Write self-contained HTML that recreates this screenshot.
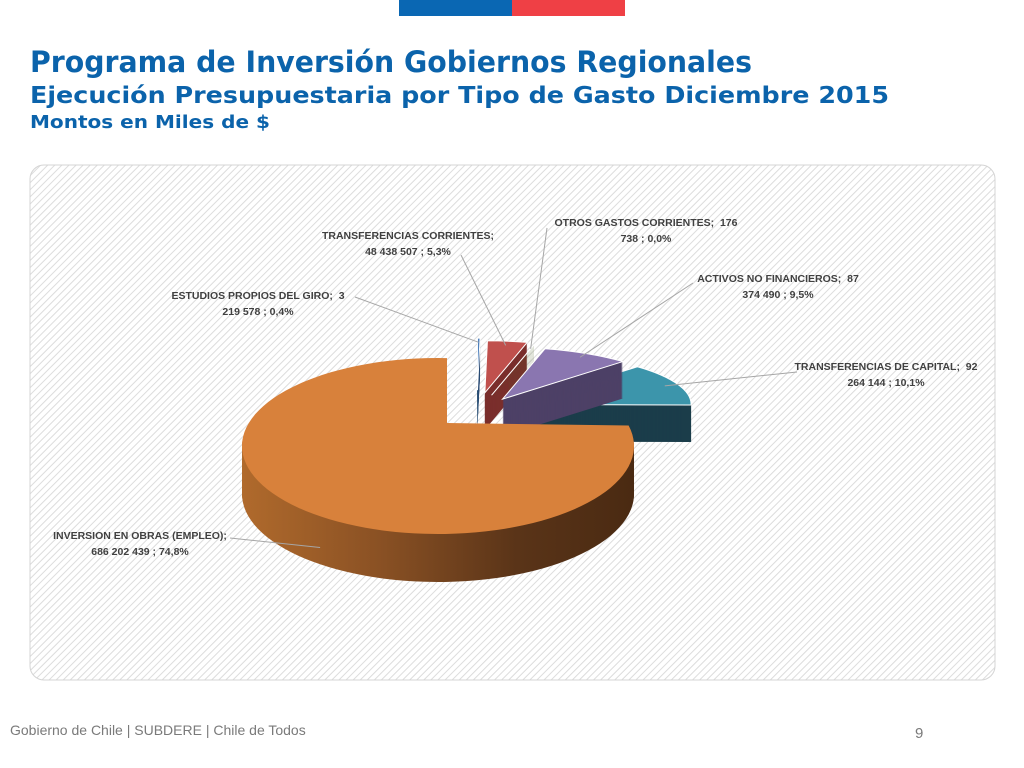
<!DOCTYPE html>
<html><head><meta charset="utf-8"><style>
html,body{margin:0;padding:0;background:#fff;width:1024px;height:768px;overflow:hidden}
svg{display:block}
</style></head><body>
<svg id="root" width="1024" height="768" xmlns="http://www.w3.org/2000/svg">
<defs>
<pattern id="hatch" patternUnits="userSpaceOnUse" width="5" height="5" patternTransform="rotate(45)">
<rect width="5" height="5" fill="#fff"/><line x1="0" y1="0" x2="0" y2="5" stroke="#dcdcdc" stroke-width="2"/>
</pattern>
<linearGradient id="orSide" gradientUnits="userSpaceOnUse" x1="242" y1="0" x2="634" y2="0">
<stop offset="0" stop-color="#b06a2c"/><stop offset="0.35" stop-color="#8a5124"/><stop offset="0.7" stop-color="#5a3418"/><stop offset="1" stop-color="#4a2a12"/>
</linearGradient>
</defs>
<rect x="399" y="0" width="113" height="16" fill="#0a67b3"/>
<rect x="512" y="0" width="113" height="16" fill="#ef4045"/>
<g font-family="'DejaVu Sans', Verdana, sans-serif" font-weight="bold" fill="#0b63ab">
<text x="30" y="72" font-size="29" textLength="722" lengthAdjust="spacingAndGlyphs">Programa de Inversión Gobiernos Regionales</text>
<text x="30" y="103" font-size="23" textLength="859" lengthAdjust="spacingAndGlyphs">Ejecución Presupuestaria por Tipo de Gasto Diciembre 2015</text>
<text x="30" y="128" font-size="18" textLength="240" lengthAdjust="spacingAndGlyphs">Montos en Miles de $</text>
</g>
<rect x="30" y="165" width="965" height="515" rx="14" fill="url(#hatch)" stroke="#d4d4d4"/>
<g id="pie"></g>
<g id="labels" font-family="'Liberation Sans', Calibri, sans-serif" font-size="10.5" font-weight="bold" fill="#404040"></g>
<text x="10" y="735" font-family="'Liberation Sans', sans-serif" font-size="14" fill="#7a7a7a">Gobierno de Chile | SUBDERE | Chile de Todos</text>
<text x="915" y="738" font-family="'Liberation Sans', sans-serif" font-size="15" fill="#7a7a7a">9</text>
</svg>
<script>
const categories = ["ESTUDIOS PROPIOS DEL GIRO","TRANSFERENCIAS CORRIENTES","OTROS GASTOS CORRIENTES","ACTIVOS NO FINANCIEROS","TRANSFERENCIAS DE CAPITAL","INVERSION EN OBRAS (EMPLEO)"];
const values = [3219578, 48438507, 176738, 87374490, 92264144, 686202439];
const valueLabels = ["3 219 578","48 438 507","176 738","87 374 490","92 264 144","686 202 439"];
const pctLabels = ["0,4%","5,3%","0,0%","9,5%","10,1%","74,8%"];
const exploded = [1,1,1,1,1,0];
const colors = ["#4f81bd","#c0504d","#8fac4f","#8a76b0","#3c95ab","#d8813b"];
const sideColors = ["#2c4d75","#7a2e2c","#55692b","#4d4066","#1b3d4a","url(#orSide)"];

const NS="http://www.w3.org/2000/svg";
const cx=440, cy=440;
const big={ecx:438, ecy:446, rx:196, ry:88, apx:447, apy:423, depth:48};
const small={rx:174, ry:52, depth:37, k:0.68};
const pie=document.getElementById('pie');
const total=values.reduce((a,b)=>a+b,0);
// perspective remap of angle for the rear (exploded) slices
function proj(a){
  if(a>=Math.PI/2-1e-9) return a;
  return Math.atan(Math.tan(a)*small.k);
}
function slicePathSmall(a0,a1,ox,oy,dz){
  const b0=proj(a0), b1=proj(a1);
  const p0=[ox+small.rx*Math.sin(b0), oy-small.ry*Math.cos(b0)+dz];
  const p1=[ox+small.rx*Math.sin(b1), oy-small.ry*Math.cos(b1)+dz];
  const large=(b1-b0)>Math.PI?1:0;
  return `M${ox},${oy+dz} L${p0[0]},${p0[1]} A${small.rx},${small.ry} 0 ${large} 1 ${p1[0]},${p1[1]} Z`;
}
function bigPt(a){
  const dx=Math.sin(a), dy=-Math.cos(a);
  const ux=(big.apx-big.ecx)/big.rx, uy=(big.apy-big.ecy)/big.ry;
  const vx=dx/big.rx, vy=dy/big.ry;
  const A=vx*vx+vy*vy, B=2*(ux*vx+uy*vy), C=ux*ux+uy*uy-1;
  const t=(-B+Math.sqrt(B*B-4*A*C))/(2*A);
  return [big.apx+dx*t, big.apy+dy*t];
}
function slicePathBig(a0,a1,dz){
  const p0=bigPt(a0), p1=bigPt(a1);
  const large=(a1-a0)>Math.PI?1:0;
  return `M${big.apx},${big.apy+dz} L${p0[0]},${p0[1]+dz} A${big.rx},${big.ry} 0 ${large} 1 ${p1[0]},${p1[1]+dz} Z`;
}
let acc=0; const slices=[];
values.forEach((v,i)=>{const a0=acc/total*2*Math.PI; acc+=v; const a1=acc/total*2*Math.PI;
  const mid=(a0+a1)/2;
  let ox=cx, oy=cy;
  if(exploded[i]){ox=cx+37+42*Math.sin(mid); oy=cy-50+15*Math.sin(mid);}
  slices.push({i,a0,a1,ox,oy,mid});});
function drawSlice(s){
  const g=document.createElementNS(NS,'g');
  
  
  const isBig=!exploded[s.i];
  const d = isBig?big.depth:small.depth;
  const path=(z)=> isBig?slicePathBig(s.a0,s.a1,z):slicePathSmall(s.a0,s.a1,s.ox,s.oy,z);
  for(let z=d; z>0; z-=1){
    const p=document.createElementNS(NS,'path');
    p.setAttribute('d',path(z));
    p.setAttribute('fill',sideColors[s.i]);
    g.appendChild(p);
  }
  const top=document.createElementNS(NS,'path');
  top.setAttribute('d',path(0));
  top.setAttribute('fill',colors[s.i]);
  if(!isBig){top.setAttribute('stroke','#fff');top.setAttribute('stroke-width','1');}
  g.appendChild(top);
  pie.appendChild(g);
}
[1,0,2,4,3,5].forEach(k=>drawSlice(slices[k]));

const labelPos=[[258,299,"middle",355,297],[408,239,"middle",461,255],[646,226,"middle",547,228],[778,282,"middle",693,283],[886,370,"middle",797,372],[140,539,"middle",230,538]];
const lab=document.getElementById('labels');
slices.forEach(s=>{
  const lp=labelPos[s.i];
  let ex,ey;
  if(exploded[s.i]){const m=(proj(s.a0)+proj(s.a1))/2; ex=s.ox+small.rx*0.92*Math.sin(m); ey=s.oy-small.ry*0.92*Math.cos(m);}
  else {const p=bigPt(s.mid); ex=p[0]-25; ey=p[1]+big.depth*0.5;}
  const ln=document.createElementNS(NS,'polyline');
  ln.setAttribute('points',`${lp[3]},${lp[4]} ${ex},${ey}`);
  ln.setAttribute('fill','none');ln.setAttribute('stroke','#a6a6a6');ln.setAttribute('stroke-width','1');
  
  
  lab.appendChild(ln);
  const t=document.createElementNS(NS,'text');
  t.setAttribute('text-anchor',lp[2]);
  
  
  const parts=valueLabels[s.i].split(' ');
  let l1, l2;
  if(s.i===1||s.i===5){l1=categories[s.i]+";"; l2=valueLabels[s.i]+" ; "+pctLabels[s.i];}
  else {l1=categories[s.i]+";\u00a0 "+parts[0]; l2=parts.slice(1).join(' ')+" ; "+pctLabels[s.i];}
  const t1=document.createElementNS(NS,'tspan');t1.setAttribute('x',lp[0]);t1.setAttribute('y',lp[1]);t1.textContent=l1;
  const t2=document.createElementNS(NS,'tspan');t2.setAttribute('x',lp[0]);t2.setAttribute('y',lp[1]+16);t2.textContent=l2;
  t.appendChild(t1);t.appendChild(t2);lab.appendChild(t);
});
</script>
</body></html>
